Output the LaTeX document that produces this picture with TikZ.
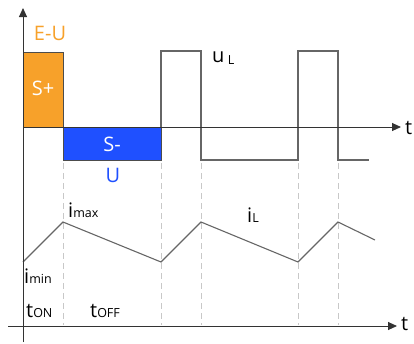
\documentclass[tikz,border=0pt]{standalone}
\usepackage{fontspec}
\setmainfont{Open Sans}
\usetikzlibrary{arrows.meta}
\definecolor{orng}{HTML}{F7A12A}
\definecolor{blu}{HTML}{1F50FF}
\definecolor{wave}{HTML}{666666}
\definecolor{dashc}{HTML}{C8C8C8}
\tikzset{
  axis/.style={line width=0.9pt, draw=black!80, -{Triangle[length=9pt,width=8pt]}},
  wv/.style={line width=1.1pt, draw=wave},
  guide/.style={line width=1pt, draw=dashc, dash pattern=on 6pt off 4pt},
  lbl/.style={inner sep=0pt, font=\fontsize{20}{23}\selectfont}
}
\newcommand{\sml}[1]{{\fontsize{12.5}{14}\selectfont #1}}
\begin{document}
\begin{tikzpicture}[x=1pt,y=-1pt]
\useasboundingbox (0,0) rectangle (414,343);
% guides
\foreach \xx/\nm in {63/ga,161/gb,201/gc,298/gd,338/ge}{
  \coordinate (\nm t) at (\xx,163);
  \coordinate (\nm b) at (\xx,325);
  \draw[guide] (\nm t) -- (\nm b);
}
% boxes
\draw[fill=orng, draw=black!70, line width=0.9pt] (23,52) rectangle (63,127);
\draw[fill=blu, draw=black!70, line width=0.9pt] (63,127) rectangle (161,160);
\node[lbl, text=white] (splus) at (43,88) {S+};
\node[lbl, text=white] (sminus) at (112,144) {S-};
\node[lbl, text=blu] (ulab) at (113,175) {U};
\node[lbl, text=orng] (eulab) at (50,33) {E-U};
% uL waveform
\draw[wv] (161,127) -- (161,51) -- (201,51) -- (201,160) -- (298,160) -- (298,51) -- (338,51) -- (338,160) -- (369,160);
% iL waveform
\draw[wv] (23,262) -- (63,222) -- (161,262) -- (201,222) -- (298,262) -- (338,222) -- (375,240);
% axes
\coordinate (va0) at (23,342);
\coordinate (va1) at (23,8);
\coordinate (ha0) at (23,127);
\coordinate (ha1) at (401,127);
\coordinate (hb0) at (8,326);
\coordinate (hb1) at (397,326);
\draw[axis] (va0) -- (va1);
\draw[axis] (ha0) -- (ha1);
\draw[axis] (hb0) -- (hb1);
\node[lbl, anchor=west] (t1) at (405,128) {t};
\node[lbl, anchor=west] (t2) at (401,324) {t};
% labels
\node[lbl, anchor=base west] (ul) at (212,62) {u\,\raisebox{-2pt}{\sml{L}}};
\node[lbl, anchor=base west] (il) at (247,222) {i\sml{L}};
\node[lbl, anchor=base west] (imax) at (68,217) {i\sml{max}};
\node[lbl, anchor=base west] (imin) at (24,283) {i\sml{min}};
\node[lbl, anchor=base west] (ton) at (26,317) {t\sml{ON}};
\node[lbl, anchor=base west] (toff) at (90,317) {t\sml{OFF}};
\end{tikzpicture}
\end{document}
